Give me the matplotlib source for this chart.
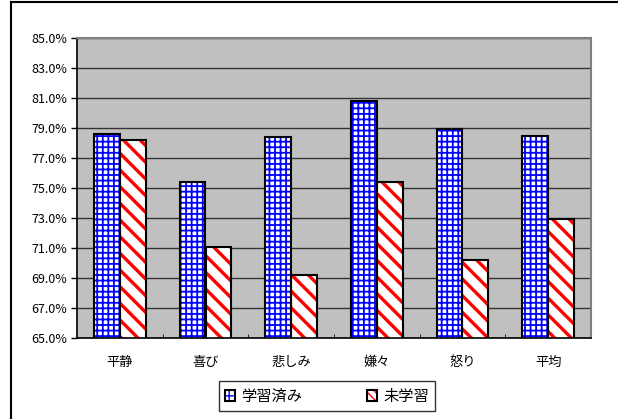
import numpy as np
import matplotlib.pyplot as plt
from matplotlib.patches import Patch
from matplotlib.lines import Line2D

plt.rcParams['font.family'] = ['Noto Sans CJK JP', 'DejaVu Sans']

categories = ['平静', '喜び', '悲しみ', '嫌々', '怒り', '平均']
learned = [78.6, 75.4, 78.4, 80.8, 78.9, 78.5]
unlearned = [78.2, 71.1, 69.2, 75.4, 70.2, 72.9]
series_names = ['学習済み', '未学習']

fig = plt.figure(figsize=(6.18, 4.19), dpi=100)
ax = fig.add_axes([77 / 618, 81 / 419, 514 / 618, 300 / 419])
ax.set_facecolor('#c0c0c0')

x = np.arange(len(categories))
w = 0.3


def hatched(xs, vals, col, hatch, hlw):
    with plt.rc_context({'hatch.linewidth': hlw}):
        bars = ax.bar(xs, vals, w, color='white', edgecolor=col, hatch=hatch, linewidth=0, zorder=2)
    for b in bars:
        if hasattr(b, 'set_hatch_linewidth'):
            b.set_hatch_linewidth(hlw)
    ax.bar(xs, vals, w, fill=False, edgecolor='black', linewidth=1.5, zorder=3)


hatched(x - w / 2, learned, '#0000ff', '+++', 1.3)
hatched(x + w / 2, unlearned, '#ff0000', '\\\\', 2.4)

ax.set_xlim(-0.5, len(categories) - 0.5)
ax.set_ylim(65, 85)
yt = np.arange(65, 85.1, 2)
ax.set_yticks(yt, ['%.1f%%' % v for v in yt])
ax.set_xticks(x, categories)
ax.set_xticks(x[:-1] + 0.5, minor=True)
ax.tick_params(axis='x', which='major', length=0, pad=13, labelsize=9.5)
ax.tick_params(axis='x', which='minor', direction='in', length=3, color='black')
ax.tick_params(axis='y', length=4, width=1, pad=3, labelsize=9)

ax.yaxis.grid(True, color='#333333', linewidth=1)
ax.set_axisbelow(True)
for s in ['top', 'right']:
    ax.spines[s].set_color('#808080')
    ax.spines[s].set_linewidth(1.5)
for s in ['left', 'bottom']:
    ax.spines[s].set_color('black')
    ax.spines[s].set_linewidth(1.2)

with plt.rc_context({'hatch.linewidth': 1.3}):
    blue_h = Patch(facecolor='white', edgecolor='#0000ff', hatch='++', linewidth=0)
with plt.rc_context({'hatch.linewidth': 2.0}):
    red_h = Patch(facecolor='white', edgecolor='#ff0000', hatch='\\\\\\\\', linewidth=0)
outline = Patch(facecolor='none', edgecolor='black', linewidth=1.5)
leg = fig.legend([(blue_h, outline), (red_h, outline)], series_names,
                 loc='center', bbox_to_anchor=(327 / 618, 1 - 396 / 419), ncol=2,
                 fontsize=11, frameon=True, fancybox=False, edgecolor='black',
                 handlelength=0.7, handleheight=0.7, handletextpad=0.4,
                 columnspacing=4.2, borderpad=0.4, borderaxespad=0)
leg.get_frame().set_linewidth(1)

# outer chart border
fig.add_artist(Line2D([11 / 618, 11 / 618], [0, 1 - 2 / 419], color='black', lw=1.5))
fig.add_artist(Line2D([11 / 618, 1], [1 - 2 / 419, 1 - 2 / 419], color='black', lw=1.5))

fig.savefig('out.png', dpi=100)
